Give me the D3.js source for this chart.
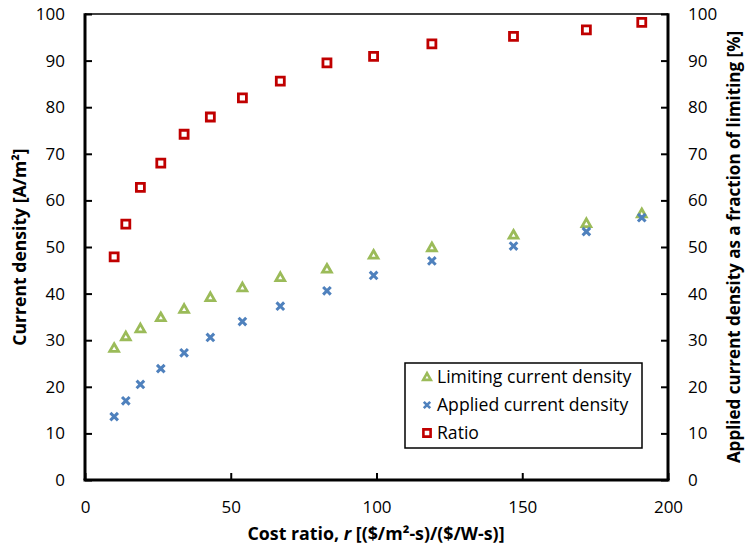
<!DOCTYPE html>
<html><head><meta charset="utf-8">
<script src="https://cdn.jsdelivr.net/npm/d3@7"></script>
<style>body{margin:0;background:#fff}svg{display:block}text{font-family:"Open Sans",sans-serif}</style>
</head><body>
<svg id="c" width="745" height="550"></svg>
<script>
const costRatio = [10,14,19,26,34,43,54,67,83,99,119,147,172,191];
const limiting  = [28.3,30.8,32.5,34.9,36.7,39.2,41.3,43.5,45.3,48.3,49.9,52.6,55.1,57.2];
const applied   = [13.6,17.0,20.5,23.9,27.3,30.6,34.0,37.3,40.6,43.9,47.0,50.2,53.3,56.3];
const ratio     = [47.9,54.9,62.8,68.0,74.2,77.9,82.0,85.6,89.5,90.9,93.6,95.2,96.6,98.2];
const xTicks = [0,50,100,150,200];
const yTicks = [0,10,20,30,40,50,60,70,80,90,100];
const seriesNames = ["Limiting current density","Applied current density","Ratio"];

const svg = d3.select("#c");
const L=85, R=668, T=14, B=480;
const x = d3.scaleLinear().domain([0,200]).range([L,R]);
const yL = d3.scaleLinear().domain([0,100]).range([B,T]);
const yR = d3.scaleLinear().domain([0,100]).range([B,T]);

const fs = 17;
const gx = svg.append("g").attr("transform",`translate(0,${B})`)
  .call(d3.axisBottom(x).tickValues(xTicks).tickSizeInner(-7).tickSizeOuter(0).tickPadding(27));
const gl = svg.append("g").attr("transform",`translate(${L},0)`)
  .call(d3.axisLeft(yL).tickValues(yTicks).tickSizeInner(-7).tickSizeOuter(0).tickPadding(20));
const gr = svg.append("g").attr("transform",`translate(${R},0)`)
  .call(d3.axisRight(yR).tickValues(yTicks).tickSizeInner(-7).tickSizeOuter(0).tickPadding(20));
[gx,gl,gr].forEach(g=>{
  g.selectAll(".domain").remove();
  g.selectAll(".tick line").attr("stroke","#000").attr("stroke-width",2);
  g.selectAll(".tick text").attr("font-size",fs).attr("fill","#000").style("font-family","'Open Sans',sans-serif");
});
gx.selectAll(".tick text").attr("dy","0.35em");
// frame
svg.append("line").attr("x1",L).attr("x2",R).attr("y1",T).attr("y2",T).attr("stroke","#000").attr("stroke-width",1.5);
svg.append("line").attr("x1",L-1.5).attr("x2",R+1.5).attr("y1",B).attr("y2",B).attr("stroke","#000").attr("stroke-width",3);
svg.append("line").attr("x1",L).attr("x2",L).attr("y1",T-0.75).attr("y2",B).attr("stroke","#000").attr("stroke-width",3);
svg.append("line").attr("x1",R).attr("x2",R).attr("y1",T-0.75).attr("y2",B).attr("stroke","#000").attr("stroke-width",3);

const green="#9BBB59", blue="#4F81BD", red="#C00000";
const triP = (s)=>`M0,${-s}L${s*1.0},${s*0.75}L${-s*1.0},${s*0.75}Z`;
const sq = (s)=>`M${-s},${-s}H${s}V${s}H${-s}Z`;
const cross = (s)=>`M${-s},${-s}L${s},${s}M${-s},${s}L${s},${-s}`;

function drawSeries(vals, ys, pathD, color, sw, fill){
  svg.append("g").selectAll("path").data(vals).join("path")
    .attr("transform",(d,i)=>`translate(${x(costRatio[i])},${ys(d)})`)
    .attr("d",pathD).attr("fill",fill).attr("stroke",color).attr("stroke-width",sw)
    .attr("stroke-linejoin","miter");
}
drawSeries(limiting, yL, triP(4.4), green, 2.8, "#fff");
drawSeries(applied, yL, cross(3.8), blue, 3, "none");
drawSeries(ratio, yR, sq(4), red, 2.8, "#fff");

// legend
const lg = svg.append("g");
lg.append("rect").attr("x",405).attr("y",363).attr("width",237).attr("height",85)
  .attr("fill","#fff").attr("stroke","#000").attr("stroke-width",1.5);
const legY=[377,405,433];
const legD=[triP(3.8), cross(3.2), sq(3.6)], legC=[green,blue,red], legF=["#fff","none","#fff"];
seriesNames.forEach((n,i)=>{
  lg.append("path").attr("transform",`translate(427,${legY[i]})`).attr("d",legD[i])
    .attr("fill",legF[i]).attr("stroke",legC[i]).attr("stroke-width",2.6);
  lg.append("text").attr("x",437).attr("y",legY[i]).attr("dy","0.35em").attr("font-size",17.6).text(n);
});

// axis titles
const xt = svg.append("text").attr("x",376).attr("y",540).attr("text-anchor","middle")
  .attr("font-size",17.8).attr("font-weight","bold");
xt.append("tspan").text("Cost ratio, ");
xt.append("tspan").attr("font-style","italic").text("r");
xt.append("tspan").text(" [($/m²-s)/($/W-s)]");

svg.append("text").attr("transform","translate(26,247) rotate(-90)").attr("text-anchor","middle")
  .attr("font-size",17.6).attr("font-weight","bold").text("Current density [A/m²]");
svg.append("text").attr("transform","translate(740,247) rotate(-90)").attr("text-anchor","middle")
  .attr("font-size",17).attr("font-weight","bold").text("Applied current density as a fraction of limiting [%]");
</script>
</body></html>
